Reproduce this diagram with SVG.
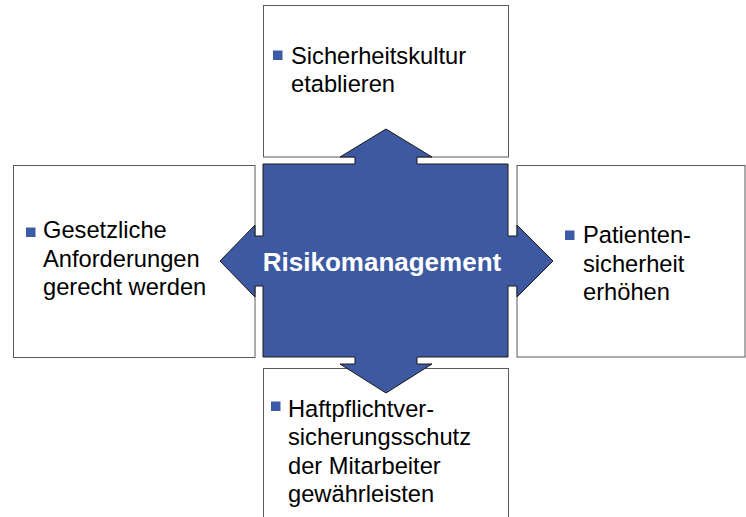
<svg xmlns="http://www.w3.org/2000/svg" width="746" height="517" viewBox="0 0 746 517">
<style>
.box{fill:#ffffff;stroke:#5a5a5a;stroke-width:1}
.t{font-family:"Liberation Sans",Arial,sans-serif;font-size:23.7px;fill:#000000}
.b{fill:#3C5AA6}
.c{font-family:"Liberation Sans",Arial,sans-serif;font-size:26px;font-weight:bold;fill:#ffffff}
</style>
<rect width="746" height="517" fill="#ffffff"/>
<g id="top">
<rect class="box" x="263.5" y="5.5" width="245" height="151.5"/>
<rect class="b" x="273" y="50.5" width="9.5" height="9.5"/>
<text class="t" x="291" y="64">Sicherheitskultur</text>
<text class="t" x="291" y="92">etablieren</text>
</g>
<g id="left">
<rect class="box" x="13.5" y="165.5" width="241.5" height="192"/>
<rect class="b" x="26" y="227.5" width="9.5" height="9.5"/>
<text class="t" x="43" y="238">Gesetzliche</text>
<text class="t" x="43" y="267">Anforderungen</text>
<text class="t" x="43" y="295">gerecht werden</text>
</g>
<g id="right">
<rect class="box" x="517" y="165.5" width="228" height="191.5"/>
<rect class="b" x="565" y="230.5" width="9.5" height="9.5"/>
<text class="t" x="583" y="243">Patienten-</text>
<text class="t" x="583" y="271.5">sicherheit</text>
<text class="t" x="583" y="300">erhöhen</text>
</g>
<g id="bottom">
<rect class="box" x="263.5" y="368.5" width="245" height="160"/>
<rect class="b" x="271" y="401.5" width="9.5" height="9.5"/>
<text class="t" x="288" y="416.5">Haftpflichtver-</text>
<text class="t" x="288" y="445">sicherungsschutz</text>
<text class="t" x="288" y="473.5">der Mitarbeiter</text>
<text class="t" x="288" y="502">gewährleisten</text>
</g>
<g id="connectors">
<g id="center">
<polygon fill="#3C59A1" stroke="#1a1a1a" stroke-width="1" stroke-linejoin="miter" points="386,129 432,157 417,157 417,164 508,164 508,236 517,236 517,225 553,261 517,297 517,286 508,286 508,357 417,357 417,364 432,364 386,393 340,364 355,364 355,357 263,357 263,286 255,286 255,297 220,261 255,225 255,236 263,236 263,164 355,164 355,157 340,157"/>
<text class="c" x="382" y="271" text-anchor="middle">Risikomanagement</text>
</g>
</g>
</svg>
